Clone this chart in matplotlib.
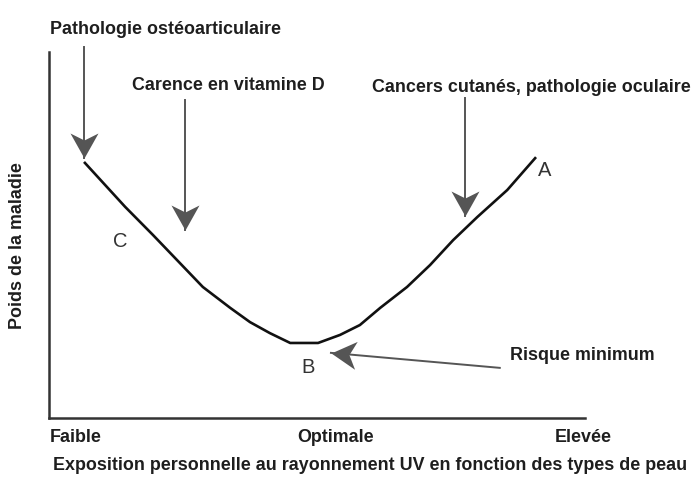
import matplotlib
matplotlib.use("Agg")
import matplotlib.pyplot as plt
from matplotlib.path import Path
from matplotlib.markers import MarkerStyle
from matplotlib.transforms import Affine2D

# courbe du risque (unités arbitraires 0-100)
expo = [6.7, 14.2, 19.4, 28.7, 33.8, 37.5, 41.2, 45.0, 50.2, 54.3, 58.0,
        61.8, 66.8, 71.1, 75.4, 79.9, 85.5, 90.7]
poids = [69.7, 57.7, 50.0, 35.8, 30.1, 26.2, 23.2, 20.5, 20.5, 22.7, 25.4,
         30.1, 35.8, 41.8, 48.6, 54.9, 62.3, 71.0]

niveaux = ["Faible", "Optimale", "Elevée"]
titre_x = "Exposition personnelle au rayonnement UV en fonction des types de peau"
titre_y = "Poids de la maladie"

# (texte, x de la flèche, départ, pointe)
fleches = [("Pathologie ostéoarticulaire", 6.6, 101.4, 71.0),
           ("Carence en vitamine D", 25.3, 86.9, 51.4),
           ("Cancers cutanés, pathologie oculaire", 77.6, 87.4, 55.2)]

W, H = 692, 478
plt.rcParams['font.family'] = ['Liberation Sans', 'DejaVu Sans']

fig = plt.figure(figsize=(W/100, H/100), dpi=100)
ax = fig.add_axes([49/W, 1-418/H, (585-49)/W, (418-52)/H])
ax.set_xlim(0, 100)
ax.set_ylim(0, 100)

ax.plot(expo, poids, color='#111111', lw=1.9, solid_joinstyle='round')

for s in ['top', 'right']:
    ax.spines[s].set_visible(False)
for s in ['left', 'bottom']:
    ax.spines[s].set_linewidth(1.8)
    ax.spines[s].set_color('#333333')
ax.set_xticks([])
ax.set_yticks([])

# pointe de flèche échancrée, sommet à l'origine, vers le bas
tete = Path([(0, 0), (-0.56, 1.0), (0, 0.72), (0.56, 1.0), (0, 0)],
            [Path.MOVETO, Path.LINETO, Path.LINETO, Path.LINETO, Path.CLOSEPOLY])
gris = '#555555'

def fleche(x0, y0, x1, y1, angle):
    ax.plot([x0, x1], [y0, y1], color=gris, lw=1.4, clip_on=False)
    m = MarkerStyle(tete).transformed(Affine2D().rotate_deg(angle))
    ax.plot([x1], [y1], marker=m, ms=36, color=gris, mec=gris, mew=0,
            clip_on=False)

for txt, x, y0, y1 in fleches:
    fleche(x, y0, x, y1, 0)
fleche(84.1, 13.7, 52.6, 17.8, 264.6)

def fxy(x, y):
    return x / W, 1 - y / H

bold = dict(fontweight='bold', fontsize=12.9, color='#1e1e1e', va='center')
fig.text(*fxy(50, 30), fleches[0][0], ha='left', **bold)
fig.text(*fxy(132, 85), fleches[1][0], ha='left', **bold)
fig.text(*fxy(372, 88), fleches[2][0], ha='left', **bold)
fig.text(*fxy(510, 355), "Risque minimum", ha='left', **bold)

fig.text(*fxy(50, 437), niveaux[0], ha='left', **bold)
fig.text(*fxy(336, 437), niveaux[1], ha='center', **bold)
fig.text(*fxy(555, 437), niveaux[2], ha='left', **bold)
fig.text(*fxy(370, 465), titre_x, ha='center', **bold)
fig.text(*fxy(18, 246), titre_y, ha='center', rotation=90, **bold)

lettres = dict(fontsize=14.5, color='#333333', ha='center', va='center')
ax.text(92.4, 67.5, "A", **lettres)
ax.text(48.3, 13.7, "B", **lettres)
ax.text(13.2, 48.1, "C", **lettres)

fig.savefig("out.png", dpi=100)
